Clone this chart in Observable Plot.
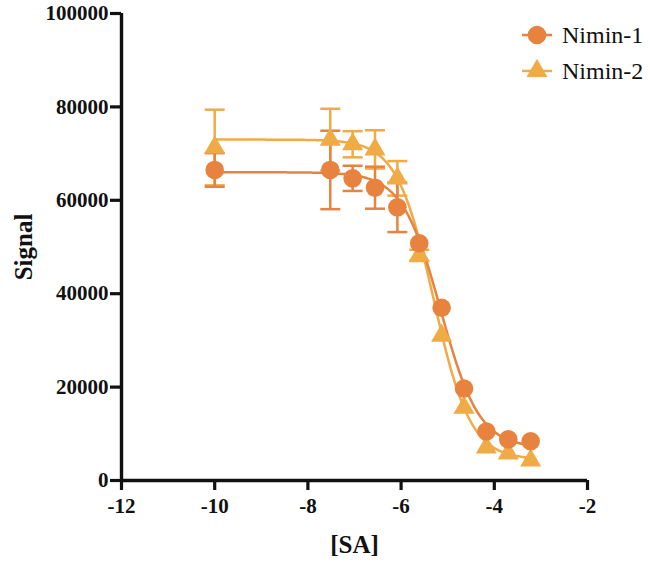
<!DOCTYPE html>
<html>
<head>
<meta charset="utf-8">
<script src="https://cdn.jsdelivr.net/npm/d3@7"></script>
<script src="https://cdn.jsdelivr.net/npm/@observablehq/plot@0.6"></script>
<style>
  html, body { margin: 0; padding: 0; background: #fff; }
  #wrap { position: relative; width: 650px; height: 563px; font-family: "Liberation Serif", serif; }
  #wrap svg text { font-family: "Liberation Serif", serif; }
  #legend { position: absolute; left: 519px; top: 17px; font-size: 24px; color: #111; }
  .item { display: flex; align-items: center; height: 36px; }
  .item svg { margin-right: 7px; }
</style>
</head>
<body>
<div id="wrap"><div id="legend"></div></div>
<script>
// ---- data ----
const logSA   = [-10, -7.52, -7.04, -6.56, -6.08, -5.61, -5.13, -4.65, -4.17, -3.70, -3.22];
const nimin1  = [66500, 66500, 64700, 62700, 58500, 50800, 37000, 19700, 10500, 8800, 8400];
const nimin1SD = [3600, 8400, 2700, 4500, 5300, 0, 0, 0, 0, 0, 0];
const nimin2  = [71300, 73000, 72000, 70900, 64700, 48200, 31000, 15600, 7100, 5800, 4300];
const nimin2SD = [8100, 6600, 2800, 4100, 3700, 1200, 0, 0, 0, 0, 0];

const seriesNames = ["Nimin-1", "Nimin-2"];
const seriesColors = ["#E8833F", "#F0AA46"];
const seriesSymbols = ["circle", "triangle"];

// four-parameter logistic fits (top, bottom, logEC50, hill)
const fitTop    = [66000, 73000];
const fitBottom = [7000, 4500];
const fitLogEC50 = [-5.15, -5.3];
const fitHill   = [1.05, 1.1];

const xTicks = [-12, -10, -8, -6, -4, -2];
const yTicks = [0, 20000, 40000, 60000, 80000, 100000];

// ---- tables ----
const points = [];
seriesNames.forEach((s, i) => {
  const ys = i === 0 ? nimin1 : nimin2;
  const sds = i === 0 ? nimin1SD : nimin2SD;
  logSA.forEach((x, j) => points.push({series: s, x, y: ys[j], sd: sds[j], lo: ys[j] - sds[j], hi: ys[j] + sds[j]}));
});
const fitCurves = [];
seriesNames.forEach((s, i) => {
  const xs = d3.range(d3.min(logSA), d3.max(logSA) + 1e-9, 0.02);
  xs.forEach(x => fitCurves.push({series: s, x,
    y: fitBottom[i] + (fitTop[i] - fitBottom[i]) / (1 + Math.pow(10, (x - fitLogEC50[i]) * fitHill[i]))}));
});

const capSymbol = {
  draw(ctx, size) {
    const h = Math.sqrt(size / Math.PI);
    ctx.moveTo(-h, 0);
    ctx.lineTo(h, 0);
  }
};

const marks = [];
// draw Nimin-2 first so Nimin-1 lies on top
[1, 0].forEach(i => {
  const s = seriesNames[i];
  const pts = points.filter(d => d.series === s);
  const bars = pts.filter(d => d.sd > 0);
  const crv = fitCurves.filter(d => d.series === s);
  const c = seriesColors[i];
  marks.push(
    Plot.line(crv, {x: "x", y: "y", stroke: c, strokeWidth: 2.5}),
    Plot.ruleX(bars, {x: "x", y1: "lo", y2: "hi", stroke: c, strokeWidth: 2.5}),
    Plot.dot(bars, {x: "x", y: "lo", symbol: capSymbol, r: 10, stroke: c, fill: "none", strokeWidth: 2.5}),
    Plot.dot(bars, {x: "x", y: "hi", symbol: capSymbol, r: 10, stroke: c, fill: "none", strokeWidth: 2.5}),
  );
});
[1, 0].forEach(i => {
  const pts = points.filter(d => d.series === seriesNames[i]);
  marks.push(Plot.dot(pts, {x: "x", y: "y", symbol: seriesSymbols[i], r: i === 0 ? 9.3 : 7.8, fill: seriesColors[i], stroke: "none"}));
});

const chart = Plot.plot({
  width: 650,
  height: 563,
  marginLeft: 121,
  marginRight: 63,
  marginTop: 13,
  marginBottom: 83,
  style: {fontFamily: "'Liberation Serif', serif", background: "#fff", color: "#111"},
  x: {domain: [-12, -2]},
  y: {domain: [0, 100000]},
  marks: [
    ...marks,
    Plot.axisX({ticks: xTicks, tickFormat: d => String(d), tickSize: 10, tickPadding: 8, strokeWidth: 3.2,
      fontSize: 21, fontWeight: "bold", label: null}),
    Plot.axisY({ticks: yTicks, tickFormat: d => String(d), tickSize: 11, tickPadding: 2, strokeWidth: 3.2,
      fontSize: 21, fontWeight: "bold", label: null}),
    Plot.ruleY([0], {strokeWidth: 3.4, stroke: "#111"}),
    Plot.ruleX([-12], {strokeWidth: 3.4, stroke: "#111"}),
    Plot.text(["Signal"], {frameAnchor: "left", textAnchor: "middle", dx: -98, rotate: -90, fontSize: 25, fontWeight: "bold", fill: "#111"}),
    Plot.text(["[SA]"], {frameAnchor: "bottom", dy: 72, fontSize: 25, fontWeight: "bold", fill: "#111"}),
  ]
});
document.getElementById("wrap").prepend(chart);

// legend
const legend = document.getElementById("legend");
seriesNames.forEach((s, i) => {
  const item = document.createElement("div");
  item.className = "item";
  const sym = d3.symbol(i === 0 ? d3.symbolCircle : d3.symbolTriangle, i === 0 ? Math.PI * 9.3 * 9.3 : Math.PI * 7.8 * 7.8)();
  item.innerHTML = `<svg width="36" height="24"><line x1="3" x2="33" y1="12" y2="12" stroke="${seriesColors[i]}" stroke-width="2.5"/>` +
    `<path d="${sym}" transform="translate(18,12)" fill="${seriesColors[i]}"/></svg><span>${s}</span>`;
  legend.appendChild(item);
});
</script>
</body>
</html>
